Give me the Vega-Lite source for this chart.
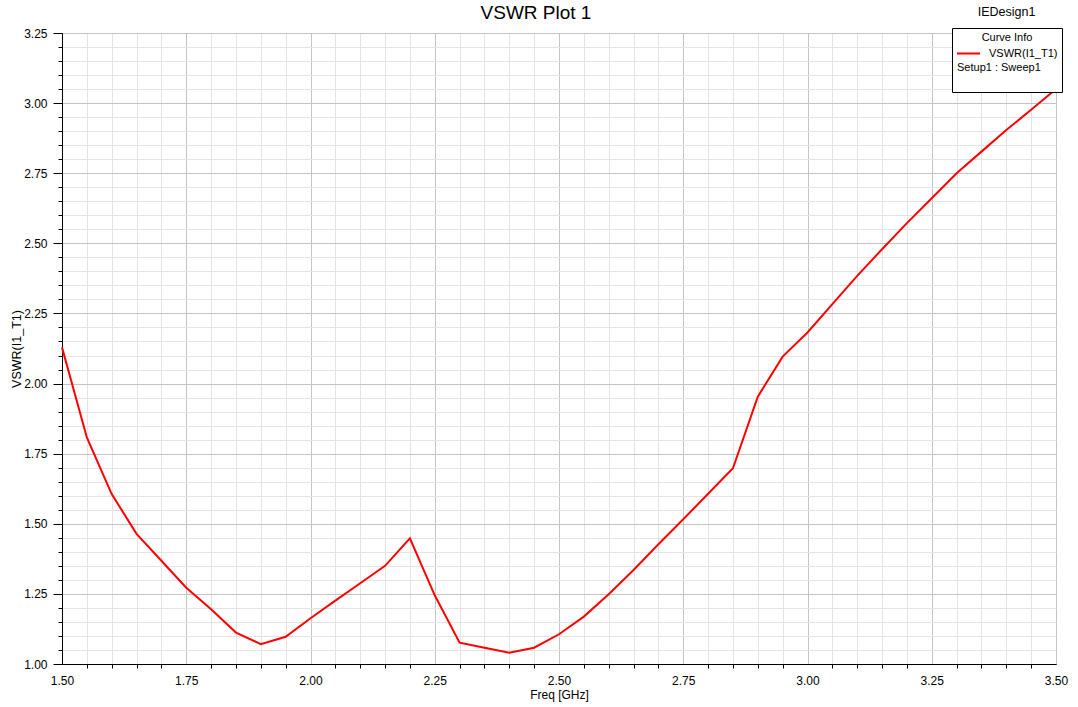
{
  "$schema": "https://vega.github.io/schema/vega-lite/v6.json",
  "width": 994,
  "height": 631,
  "autosize": "none",
  "padding": {"left": 62, "top": 33, "right": 22, "bottom": 43},
  "background": "white",
  "config": {
    "font": "Liberation Sans",
    "view": {"stroke": "black", "strokeWidth": 1}
  },
  "title": {
    "text": "VSWR Plot 1",
    "fontSize": 19,
    "fontWeight": "normal",
    "color": "black",
    "anchor": "middle",
    "frame": "group",
    "dx": -23,
    "baseline": "alphabetic",
    "offset": -32.5
  },
  "data": {
    "values": [
      {"f": 1.50, "v": 2.129, "curve": "VSWR(I1_T1)"},
      {"f": 1.55, "v": 1.808, "curve": "VSWR(I1_T1)"},
      {"f": 1.60, "v": 1.606, "curve": "VSWR(I1_T1)"},
      {"f": 1.65, "v": 1.464, "curve": "VSWR(I1_T1)"},
      {"f": 1.70, "v": 1.368, "curve": "VSWR(I1_T1)"},
      {"f": 1.75, "v": 1.272, "curve": "VSWR(I1_T1)"},
      {"f": 1.80, "v": 1.195, "curve": "VSWR(I1_T1)"},
      {"f": 1.85, "v": 1.112, "curve": "VSWR(I1_T1)"},
      {"f": 1.90, "v": 1.071, "curve": "VSWR(I1_T1)"},
      {"f": 1.95, "v": 1.097, "curve": "VSWR(I1_T1)"},
      {"f": 2.00, "v": 1.163, "curve": "VSWR(I1_T1)"},
      {"f": 2.05, "v": 1.226, "curve": "VSWR(I1_T1)"},
      {"f": 2.10, "v": 1.288, "curve": "VSWR(I1_T1)"},
      {"f": 2.15, "v": 1.350, "curve": "VSWR(I1_T1)"},
      {"f": 2.20, "v": 1.448, "curve": "VSWR(I1_T1)"},
      {"f": 2.25, "v": 1.245, "curve": "VSWR(I1_T1)"},
      {"f": 2.30, "v": 1.076, "curve": "VSWR(I1_T1)"},
      {"f": 2.35, "v": 1.058, "curve": "VSWR(I1_T1)"},
      {"f": 2.40, "v": 1.040, "curve": "VSWR(I1_T1)"},
      {"f": 2.45, "v": 1.058, "curve": "VSWR(I1_T1)"},
      {"f": 2.50, "v": 1.106, "curve": "VSWR(I1_T1)"},
      {"f": 2.55, "v": 1.169, "curve": "VSWR(I1_T1)"},
      {"f": 2.60, "v": 1.249, "curve": "VSWR(I1_T1)"},
      {"f": 2.65, "v": 1.335, "curve": "VSWR(I1_T1)"},
      {"f": 2.70, "v": 1.427, "curve": "VSWR(I1_T1)"},
      {"f": 2.75, "v": 1.516, "curve": "VSWR(I1_T1)"},
      {"f": 2.80, "v": 1.607, "curve": "VSWR(I1_T1)"},
      {"f": 2.85, "v": 1.698, "curve": "VSWR(I1_T1)"},
      {"f": 2.90, "v": 1.953, "curve": "VSWR(I1_T1)"},
      {"f": 2.95, "v": 2.096, "curve": "VSWR(I1_T1)"},
      {"f": 3.00, "v": 2.182, "curve": "VSWR(I1_T1)"},
      {"f": 3.05, "v": 2.283, "curve": "VSWR(I1_T1)"},
      {"f": 3.10, "v": 2.384, "curve": "VSWR(I1_T1)"},
      {"f": 3.15, "v": 2.479, "curve": "VSWR(I1_T1)"},
      {"f": 3.20, "v": 2.572, "curve": "VSWR(I1_T1)"},
      {"f": 3.25, "v": 2.661, "curve": "VSWR(I1_T1)"},
      {"f": 3.30, "v": 2.750, "curve": "VSWR(I1_T1)"},
      {"f": 3.35, "v": 2.827, "curve": "VSWR(I1_T1)"},
      {"f": 3.40, "v": 2.904, "curve": "VSWR(I1_T1)"},
      {"f": 3.45, "v": 2.976, "curve": "VSWR(I1_T1)"},
      {"f": 3.50, "v": 3.050, "curve": "VSWR(I1_T1)"}
    ]
  },
  "layer": [
    {
      "mark": {"type": "line", "strokeWidth": 2},
      "encoding": {
        "x": {
          "field": "f",
          "type": "quantitative",
          "scale": {"domain": [1.5, 3.5], "nice": false, "zero": false},
          "axis": {
            "orient": "bottom",
            "values": [1.5,1.55,1.6,1.65,1.7,1.75,1.8,1.85,1.9,1.95,2,2.05,2.1,2.15,2.2,2.25,2.3,2.35,2.4,2.45,2.5,2.55,2.6,2.65,2.7,2.75,2.8,2.85,2.9,2.95,3,3.05,3.1,3.15,3.2,3.25,3.3,3.35,3.4,3.45,3.5],
            "title": "Freq [GHz]",
            "titleFontSize": 12,
            "titleFontWeight": "normal",
            "titleColor": "black",
            "titlePadding": 3,
            "labelExpr": "abs(datum.value*4 - round(datum.value*4)) < 0.01 ? format(datum.value, '.2f') : ''",
            "labelFontSize": 12,
            "labelColor": "black",
            "labelPadding": 7,
            "labelOverlap": false,
            "labelFlush": false,
            "labelBound": false,
            "tickSize": 4,
            "tickColor": {"condition": {"test": "abs(datum.value*4 - round(datum.value*4)) < 0.01", "value": "rgba(0,0,0,0)"}, "value": "black"},
            "domainColor": "black",
            "grid": true,
            "gridColor": {"condition": {"test": "abs(datum.value*4 - round(datum.value*4)) < 0.01", "value": "#c4c4c4"}, "value": "#e4e4e4"}
          }
        },
        "y": {
          "field": "v",
          "type": "quantitative",
          "scale": {"domain": [1, 3.25], "nice": false, "zero": false},
          "axis": {
            "values": [1,1.05,1.1,1.15,1.2,1.25,1.3,1.35,1.4,1.45,1.5,1.55,1.6,1.65,1.7,1.75,1.8,1.85,1.9,1.95,2,2.05,2.1,2.15,2.2,2.25,2.3,2.35,2.4,2.45,2.5,2.55,2.6,2.65,2.7,2.75,2.8,2.85,2.9,2.95,3,3.05,3.1,3.15,3.2,3.25],
            "title": "VSWR(I1_T1)",
            "titleFontSize": 12.5,
            "titleFontWeight": "normal",
            "titleColor": "black",
            "titlePadding": 0,
            "labelExpr": "abs(datum.value*4 - round(datum.value*4)) < 0.01 ? format(datum.value, '.2f') : ''",
            "labelFontSize": 12,
            "labelColor": "black",
            "labelPadding": 6,
            "labelOverlap": false,
            "labelFlush": false,
            "labelBound": false,
            "tickSize": {"condition": {"test": "abs(datum.value*4 - round(datum.value*4)) < 0.01", "value": 9}, "value": 4},
            "tickColor": "black",
            "domainColor": "black",
            "grid": true,
            "gridColor": {"condition": {"test": "abs(datum.value*4 - round(datum.value*4)) < 0.01", "value": "#c4c4c4"}, "value": "#e4e4e4"}
          }
        },
        "color": {
          "field": "curve",
          "type": "nominal",
          "scale": {"domain": ["VSWR(I1_T1)", "Setup1 : Sweep1", " "], "range": ["#ff0000", "rgba(0,0,0,0)", "rgba(0,0,0,0)"]},
          "legend": {
            "orient": "none",
            "legendX": 890,
            "legendY": -5,
            "title": "Curve Info",
            "titleFontSize": 11,
            "titleFontWeight": "normal",
            "titleColor": "black",
            "titleAnchor": "middle",
            "titlePadding": 5,
            "labelFontSize": 11,
            "labelColor": "black",
            "labelOffset": 8,
            "symbolType": "stroke",
            "symbolSize": 529,
            "symbolStrokeWidth": 2,
            "clipHeight": 11,
            "rowPadding": 2.5,
            "padding": 4,
            "fillColor": "white",
            "strokeColor": "black",
            "encode": {
              "labels": {"update": {"dx": {"signal": "datum.value === 'Setup1 : Sweep1' ? -32 : 0"}}}
            }
          }
        }
      }
    },
    {
      "mark": {"type": "rule", "strokeOpacity": 0},
      "encoding": {
        "x": {
          "field": "f",
          "type": "quantitative",
          "axis": {
            "orient": "top",
            "title": "IEDesign1",
            "titleX": 944,
            "titleY": -17.5,
            "titleAlign": "center",
            "titleBaseline": "alphabetic",
            "titleFontSize": 12.5,
            "titleFontWeight": "normal",
            "titleColor": "black",
            "domain": false,
            "ticks": false,
            "labels": false,
            "grid": false
          }
        }
      }
    }
  ],
  "resolve": {"axis": {"x": "independent"}}
}
